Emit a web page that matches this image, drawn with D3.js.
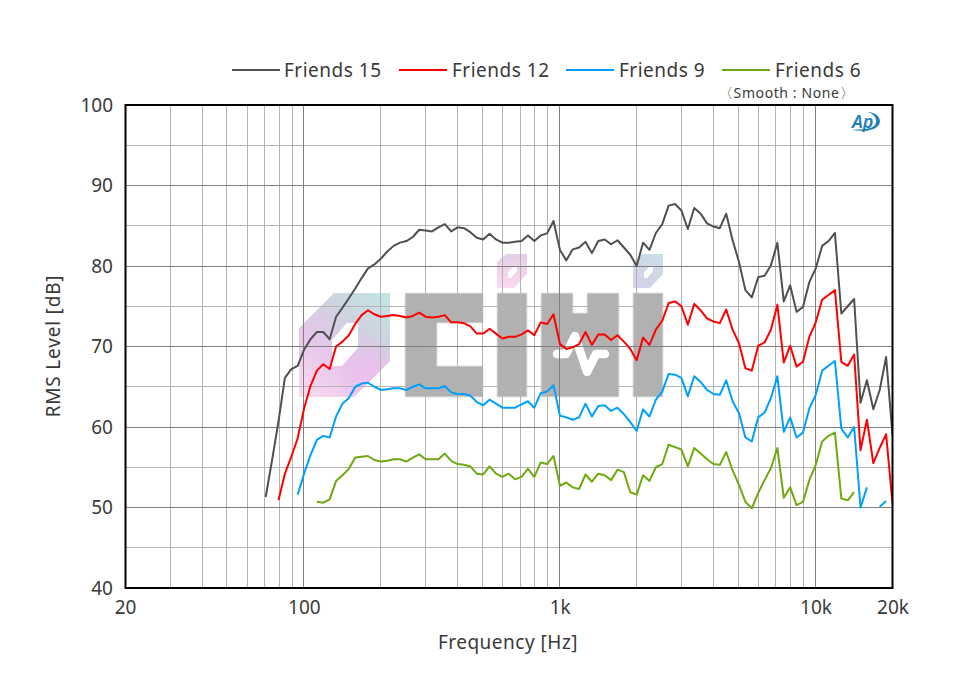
<!DOCTYPE html>
<html><head><meta charset="utf-8">
<script src="https://cdn.jsdelivr.net/npm/d3@7"></script>
<style>html,body{margin:0;padding:0;background:#fff}svg{display:block}text{font-family:"Noto Sans",sans-serif;fill:#3a3a3a}</style>
</head><body><svg id="c" width="960" height="680"></svg>
<script>
const frequencies=[70.96,75.17,79.62,84.34,89.34,94.63,100.24,106.18,112.47,119.13,
126.19,133.67,141.59,149.98,158.87,168.28,178.25,188.81,200,211.9,
224.4,237.7,251.8,266.7,282.5,299.2,317,335.8,355.7,376.7,
399.1,422.7,447.7,474.3,502.4,532.1,563.7,597.1,632.5,669.9,
709.6,751.7,796.2,843.4,893.4,946.3,1002.4,1061.8,1124.7,1191.3,
1261.9,1336.7,1415.9,1499.8,1588.7,1682.8,1782.5,1888.1,2000,2118.6,
2244,2377,2518,2667,2825,2992,3170,3358,3557,3767,
3991,4227,4477,4743,5024,5321,5637,5971,6325,6699,
7096,7517,7962,8434,8934,9463,10024,10618,11247,11913,
12619,13367,14159,14998,15887,16828,17825,18881,20000];
const friends15=[51.3,55.9,60.7,66.1,67.2,67.6,69.6,70.9,71.8,71.8,
70.9,73.7,74.8,76.0,77.2,78.5,79.7,80.2,80.9,81.8,
82.5,82.9,83.1,83.6,84.5,84.4,84.3,84.8,85.2,84.3,
84.8,84.7,84.2,83.5,83.3,84.0,83.3,82.9,82.9,83.0,
83.1,83.8,83.1,83.8,84.05,85.6,82.0,80.7,82.07,82.3,
83.0,81.6,83.1,83.3,82.7,83.2,82.3,81.4,80.0,82.9,
82.0,84.1,85.2,87.5,87.7,86.9,84.6,87.2,86.5,85.3,
84.9,84.7,86.5,83.2,80.5,77.0,76.1,78.6,78.8,80.1,
82.9,75.6,77.6,74.3,74.9,78.0,79.7,82.5,83.1,84.1,
74.1,75.0,75.9,63.0,65.8,62.2,64.6,68.7,59.0];
const friends12=[null,null,50.9,54.2,56.3,58.6,62.3,65.1,67.0,67.8,
67.2,70.0,70.6,71.4,72.8,73.9,74.5,74.0,73.7,73.8,
73.9,73.8,73.6,73.8,74.2,73.7,73.6,73.7,73.9,73.0,
73.0,72.9,72.5,71.6,71.6,72.2,71.6,71.0,71.2,71.2,
71.5,72.0,71.4,73.0,72.8,74.0,70.3,69.7,69.9,70.3,
71.8,70.2,71.5,71.5,70.8,71.4,70.6,69.7,68.3,71.1,
70.2,72.1,73.2,75.4,75.6,75.0,72.7,75.3,74.5,73.5,
73.1,72.9,74.6,72.1,70.4,67.3,67.0,70.1,70.5,72.1,
75.2,68.0,70.1,67.5,68.1,71.2,73.0,75.8,76.4,77.0,
68.1,67.6,69.0,57.1,60.9,55.5,57.4,59.1,50.5];
const friends9=[null,null,null,null,null,51.6,54.2,56.5,58.4,58.9,
58.7,61.3,62.9,63.6,65.0,65.4,65.5,65.0,64.6,64.7,
64.8,64.8,64.6,65.0,65.3,64.8,64.8,64.8,65.1,64.3,
64.1,64.1,63.9,63.1,62.7,63.4,62.9,62.4,62.4,62.4,
62.8,63.2,62.4,64.2,64.4,65.2,61.4,61.2,60.9,61.2,
62.9,61.3,62.6,62.7,62.0,62.4,61.6,60.6,59.5,62.2,
61.3,63.4,64.4,66.6,66.5,66.1,63.8,66.3,65.6,64.6,
64.1,64.0,65.8,63.2,61.7,58.7,58.2,61.2,61.8,63.6,
66.3,59.4,61.2,58.7,59.3,62.3,64.0,67.0,67.6,68.2,
59.8,58.7,60.0,50.0,52.5,null,50.1,50.8,null];
const friends6=[null,null,null,null,null,null,null,null,50.7,50.6,
51.0,53.3,54.0,54.8,56.2,56.3,56.4,55.9,55.7,55.8,
56.0,56.0,55.7,56.2,56.6,56.0,56.0,56.0,56.7,55.8,
55.4,55.3,55.1,54.2,54.1,55.1,54.2,53.8,54.2,53.5,
53.8,54.8,53.8,55.6,55.4,56.4,52.7,53.1,52.5,52.3,
54.1,53.2,54.2,54.0,53.4,54.7,54.4,51.9,51.6,54.0,
53.3,55.0,55.4,57.8,57.5,57.2,55.1,57.4,56.7,56.0,
55.4,55.3,56.9,54.6,52.8,50.7,49.9,51.8,53.4,54.9,
57.4,51.2,52.5,50.3,50.7,53.4,55.3,58.2,58.9,59.3,
51.1,50.9,51.9,null,null,null,null,null,null];
const seriesNames=["Friends 15","Friends 12","Friends 9","Friends 6"];
const seriesValues=[friends15,friends12,friends9,friends6];
const seriesColors=["#505050","#ff0000","#00a0ff","#70a810"];
const xTickValues=[20,100,1000,10000,20000];
const xTickLabels=["20","100","1k","10k","20k"];
const yTickValues=[40,50,60,70,80,90,100];
const xMajorGrid=[100,1000,10000];
const xMinorGrid=[30,40,50,60,70,80,90,200,300,400,500,600,700,800,900,2000,3000,4000,5000,6000,7000,8000,9000];
const yMajorGrid=[50,60,70,80,90];
const yMinorGrid=[45,55,65,75,85,95];

const L=125,R=892.5,T=105,B=588;
const x=d3.scaleLog().domain([20,20000]).range([L,R]);
const y=d3.scaleLinear().domain([40,100]).range([B,T]);
const svg=d3.select("#c");
const defs=svg.append("defs");
function grad(id,pts,stops){const g=defs.append("linearGradient").attr("id",id).attr("gradientUnits","userSpaceOnUse")
 .attr("x1",pts[0]).attr("y1",pts[1]).attr("x2",pts[2]).attr("y2",pts[3]);
 stops.forEach(s=>g.append("stop").attr("offset",s[0]).attr("stop-color",s[1]));}
grad("gC",[392,290,300,400],[[0,"#bfe9e5"],[.35,"#cfd2e0"],[.62,"#e6c6ea"],[1,"#fcdcf0"]]);
const pr=defs.append("radialGradient").attr("id","gP").attr("gradientUnits","userSpaceOnUse").attr("cx",372).attr("cy",372).attr("r",40);
pr.append("stop").attr("offset",0).attr("stop-color","#eebcee").attr("stop-opacity",.9);
pr.append("stop").attr("offset",1).attr("stop-color","#eebcee").attr("stop-opacity",0);
grad("gD1",[512,254,512,288],[[0,"#e4cfe6"],[1,"#fbd9f1"]]);
grad("gD2",[633,288,663,254],[[0,"#d6d0e8"],[1,"#c8dfe6"]]);

// watermark
const wm=svg.append("g");
const hexC="M299,328L334,293L390,293L390,361L354,397L299,397Z M347,323L332,340L332,366L342,366L358,348L358,323Z";
wm.append("path").attr("d",hexC).attr("fill","url(#gC)").attr("fill-rule","evenodd");
wm.append("path").attr("d",hexC).attr("fill","url(#gP)").attr("fill-rule","evenodd");
const dot=o=>`M${o},262L${o+9},254L${o+30},254L${o+30},274L${o+17},288L${o},288Z M${o+17},266L${o+11},272L${o+11},278L${o+14},278L${o+20},271L${o+20},266Z`;
wm.append("path").attr("d",dot(497)).attr("fill","url(#gD1)").attr("fill-rule","evenodd");
wm.append("path").attr("d",dot(633)).attr("fill","url(#gD2)").attr("fill-rule","evenodd");
const blk="#b1b1b1";
[ "M405,293H483V323H437V366H483V397H405Z",
  "M497,293H527V397H497Z",
  "M541,293H573V313H587V293H619V397H541Z",
  "M633,293H663V397H633Z"].forEach(d=>wm.append("path").attr("d",d).attr("fill",blk).attr("stroke","#e2e2e2").attr("stroke-width",1));
wm.append("path").attr("d","M557,354H566L575,336L587,372L596,354H605").attr("fill","none").attr("stroke","#fff").attr("stroke-width",8.5).attr("stroke-linecap","round").attr("stroke-linejoin","round");

// grid
const grid=svg.append("g").attr("shape-rendering","crispEdges");
grid.selectAll(".vm").data(xMinorGrid).join("line").attr("x1",x).attr("x2",x).attr("y1",T).attr("y2",B).attr("stroke","#b4b4b4");
grid.selectAll(".hm").data(yMinorGrid).join("line").attr("x1",L).attr("x2",R).attr("y1",y).attr("y2",y).attr("stroke","#b4b4b4");
grid.selectAll(".vM").data(xMajorGrid).join("line").attr("x1",x).attr("x2",x).attr("y1",T).attr("y2",B).attr("stroke","#808080");
grid.selectAll(".hM").data(yMajorGrid).join("line").attr("x1",L).attr("x2",R).attr("y1",y).attr("y2",y).attr("stroke","#808080");

// series
defs.append("clipPath").attr("id","plot").append("rect").attr("x",L).attr("y",T).attr("width",R-L).attr("height",B-T);
const line=d3.line().defined(d=>d[1]!=null).x(d=>x(d[0])).y(d=>y(d[1]));
const lines=svg.append("g").attr("clip-path","url(#plot)");
seriesValues.forEach((vals,k)=>{
 lines.append("path").datum(vals.map((v,i)=>[frequencies[i],v])).attr("d",line)
  .attr("fill","none").attr("stroke",seriesColors[k]).attr("stroke-width",2).attr("stroke-linejoin","round");
});

// frame
svg.append("rect").attr("x",L+.5).attr("y",T).attr("width",R-L-.5).attr("height",B-T).attr("fill","none").attr("stroke","#000").attr("stroke-width",2);

// axes (labels only)
const fs=19;
const ax=svg.append("g").attr("transform",`translate(0,${B})`).call(d3.axisBottom(x).tickValues(xTickValues).tickSize(0).tickPadding(13).tickFormat((d,i)=>xTickLabels[i]));
const ay=svg.append("g").attr("transform",`translate(${L},0)`).call(d3.axisLeft(y).tickValues(yTickValues).tickSize(0).tickPadding(12));
[ax,ay].forEach(g=>{g.select(".domain").remove();g.selectAll("text").style("font-size",fs+"px").style("font-family",'"Noto Sans",sans-serif').attr("fill","#3a3a3a");});

svg.append("text").attr("x",508).attr("y",649).attr("text-anchor","middle").style("font-size","19px").style("letter-spacing","0.5px").text("Frequency [Hz]");
svg.append("text").attr("transform","translate(60,346) rotate(-90)").attr("text-anchor","middle").style("font-size","19px").style("letter-spacing","0.8px").text("RMS Level [dB]");

// legend
const legLine=[232,399,566,722],legText=[284,452,619,775];
seriesNames.forEach((n,i)=>{
 svg.append("line").attr("x1",legLine[i]).attr("x2",legLine[i]+48).attr("y1",70).attr("y2",70).attr("stroke",seriesColors[i]).attr("stroke-width",2);
 svg.append("text").attr("x",legText[i]).attr("y",77).style("font-size","19px").style("letter-spacing","0.5px").text(n);
});
svg.append("text").attr("x",719).attr("y",97.5).style("font-size","14px").style("letter-spacing","0.6px").text("〈Smooth : None〉");

// AP mark
const ap=svg.append("g");
ap.append("text").attr("x",852).attr("y",128).style("font-size","18px").style("font-style","italic").style("font-weight","600").style("fill","#1f7fb8").text("Ap");
ap.append("path").attr("d","M868,112C882,113 885,127 870,130C864,132 857,130 852,130C858,129 864,130 870,128C879,126 878,115 868,112Z").attr("fill","#1f7fb8");
</script></body></html>
